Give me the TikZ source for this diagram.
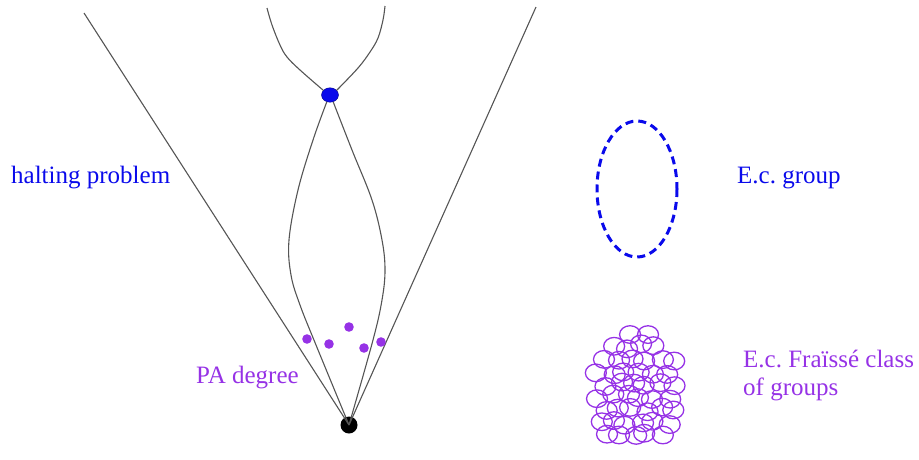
\documentclass[tikz,border=0pt]{standalone}
\usepackage{fontspec}
\setmainfont{Liberation Serif}
\usetikzlibrary{shapes.geometric}
\definecolor{hpblue}{RGB}{10,10,235}
\definecolor{papurple}{RGB}{150,50,230}
\definecolor{linegray}{RGB}{85,85,85}
\tikzset{
	edge/.style={linegray, line width=1.1},
	lbl/.style={font=\fontsize{25}{28}\selectfont\frenchspacing, inner sep=0pt, anchor=base west},
	fraisse/.style={papurple, line width=1.3}
}
\begin{document}
\begin{tikzpicture}[x=1pt, y=-1pt]
			\useasboundingbox (0,0) rectangle (919,459);
			\node[ellipse, fill=hpblue, draw=hpblue!60!black, line width=0.4, minimum width=17, minimum height=14.5, inner sep=0pt] (hp) at (330,95) {};
			\node[circle, fill=black, minimum size=17, inner sep=0pt] (v) at (349,425) {};
			\coordinate (tl) at (84,13);
			\coordinate (tr) at (536,7);
			% outer cone
			\draw[edge] (v.center) -- (tl);
			\draw[edge] (v.center) -- (tr);
			% two branches between the dots
			\draw[edge] plot[smooth, tension=0.6] coordinates {(hp.-115) (313,140) (298,190) (289,240) (291,275) (300,305) (316,345) (v.center)};
			\draw[edge] plot[smooth, tension=0.6] coordinates {(hp.-65) (352,150) (372,200) (382,240) (385,270) (382,300) (373,340) (v.center)};
			% branches above the blue dot
			\draw[edge] plot[smooth, tension=0.6] coordinates {(hp.145) (300,70) (287,57) (280,45) (272,25) (267,8)};
			\draw[edge] plot[smooth, tension=0.6] coordinates {(hp.35) (358,68) (370,52) (378,38) (383,20) (385,6)};
			\foreach \x/\y in {307/339, 329/344, 349/327, 364/348, 381/342} { \fill[papurple] (\x,\y) circle (4.8); }
			\node[lbl, hpblue] (halt) at (11,183) {halting problem};
			\node[lbl, papurple] (pa) at (196,383) {PA degree};
			% e.c. group
			\draw[hpblue, line width=3, dash pattern=on 8 off 5] (637,189) ellipse [x radius=40, y radius=68];
			\node[lbl, hpblue] (ecg) at (737,183) {E.c. group};
			% e.c. Fraisse class
			\pgfmathsetseed{5}
			\foreach \r in {0,...,9} {
				\foreach \c in {-4,...,4} {
					\pgfmathsetmacro{\cx}{636+13.5*\c+6.75*mod(\r,2)-3+7*(rnd-0.5)}
					\pgfmathsetmacro{\cy}{334+12.6*\r+6*(rnd-0.5)}
					\pgfmathtruncatemacro{\inside}{((\cx-636)/45)^2+((\cy-390)/58)^2<=1 ? 1 : 0}
					\ifnum\inside=1 \draw[fraisse] (\cx,\cy) ellipse [x radius=10.5, y radius=8.8]; \fi
				}
			}
			\node[lbl, papurple, align=left] (ecf) at (743,395) {E.c. Fraïssé class\\of groups};
		\end{tikzpicture}
\end{document}
